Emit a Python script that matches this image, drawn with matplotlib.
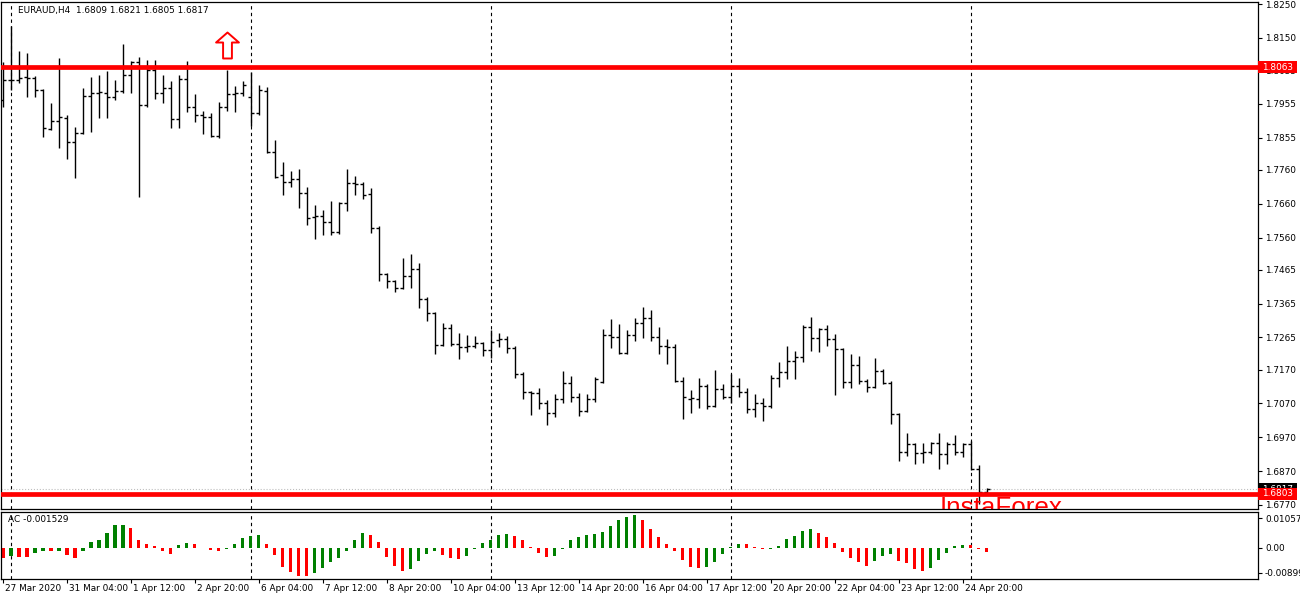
import numpy as np
import matplotlib.pyplot as plt
import matplotlib.transforms as mtransforms
from matplotlib.patches import Rectangle
from matplotlib.path import Path

plt.rcParams['font.family'] = ['DejaVu Sans']

# EURAUD H4 bars, 27 Mar 20:00 .. 27 Apr 08:00
opens = [1.7967, 1.8026, 1.8026, 1.8034, 1.8032, 1.7996, 1.7881, 1.7904, 1.7913, 1.7842,
         1.7869, 1.7978, 1.7987, 1.7987, 1.7975, 1.7993, 1.8040, 1.8079, 1.7952, 1.8055,
         1.7987, 1.8002, 1.7910, 1.8029, 1.7946, 1.7922, 1.7916, 1.7860, 1.7946, 1.7984,
         1.7987, 1.7975, 1.7928, 1.7993, 1.7813, 1.7745, 1.7724, 1.7733, 1.7692, 1.7621,
         1.7624, 1.7606, 1.7576, 1.7662, 1.7721, 1.7718, 1.7689, 1.7588, 1.7452, 1.7432,
         1.7411, 1.7446, 1.7467, 1.7378, 1.7337, 1.7243, 1.7293, 1.7245, 1.7237, 1.7240,
         1.7248, 1.7228, 1.7257, 1.7260, 1.7234, 1.7157, 1.7104, 1.7101, 1.7071, 1.7042,
         1.7083, 1.7130, 1.7089, 1.7047, 1.7083, 1.7133, 1.7272, 1.7266, 1.7219, 1.7272,
         1.7308, 1.7322, 1.7266, 1.7240, 1.7237, 1.7136, 1.7083, 1.7083, 1.7121, 1.7062,
         1.7113, 1.7089, 1.7121, 1.7104, 1.7053, 1.7071, 1.7062, 1.7145, 1.7163, 1.7195,
         1.7207, 1.7296, 1.7263, 1.7290, 1.7260, 1.7231, 1.7133, 1.7183, 1.7136, 1.7118,
         1.7166, 1.7130, 1.7039, 1.6926, 1.6950, 1.6923, 1.6926, 1.6953, 1.6920, 1.6950,
         1.6926, 1.6950, 1.6876, 1.6809]
highs = [1.8079, 1.8185, 1.8111, 1.8105, 1.8037, 1.7999, 1.7958, 1.8091, 1.7922, 1.7887,
         1.8002, 1.8034, 1.8040, 1.8052, 1.8026, 1.8132, 1.8082, 1.8094, 1.8085, 1.8085,
         1.8040, 1.8023, 1.8040, 1.8082, 1.7984, 1.7934, 1.7928, 1.7961, 1.8055, 1.8008,
         1.8023, 1.8049, 1.8011, 1.8005, 1.7848, 1.7783, 1.7757, 1.7763, 1.7709, 1.7656,
         1.7641, 1.7668, 1.7665, 1.7763, 1.7742, 1.7724, 1.7706, 1.7594, 1.7455, 1.7435,
         1.7500, 1.7511, 1.7485, 1.7384, 1.7340, 1.7308, 1.7305, 1.7278, 1.7272, 1.7269,
         1.7251, 1.7287, 1.7278, 1.7269, 1.7240, 1.7163, 1.7107, 1.7115, 1.7080, 1.7098,
         1.7166, 1.7151, 1.7101, 1.7098, 1.7148, 1.7290, 1.7319, 1.7305, 1.7287, 1.7322,
         1.7355, 1.7346, 1.7296, 1.7260, 1.7245, 1.7148, 1.7110, 1.7145, 1.7127, 1.7169,
         1.7127, 1.7157, 1.7145, 1.7115, 1.7098, 1.7086, 1.7154, 1.7192, 1.7240, 1.7225,
         1.7302, 1.7325, 1.7293, 1.7302, 1.7275, 1.7234, 1.7216, 1.7210, 1.7142, 1.7204,
         1.7172, 1.7136, 1.7042, 1.6982, 1.6953, 1.6953, 1.6956, 1.6982, 1.6956, 1.6977,
         1.6953, 1.6959, 1.6888, 1.6821]
lows = [1.7946, 1.7996, 1.8017, 1.7975, 1.7975, 1.7857, 1.7878, 1.7825, 1.7792, 1.7736,
        1.7866, 1.7872, 1.7913, 1.7913, 1.7967, 1.7987, 1.7987, 1.7680, 1.7946, 1.7969,
        1.7958, 1.7884, 1.7884, 1.7931, 1.7901, 1.7866, 1.7857, 1.7854, 1.7934, 1.7931,
        1.7978, 1.7890, 1.7922, 1.7810, 1.7736, 1.7686, 1.7709, 1.7647, 1.7597, 1.7556,
        1.7568, 1.7568, 1.7571, 1.7638, 1.7686, 1.7674, 1.7573, 1.7432, 1.7411, 1.7399,
        1.7408, 1.7411, 1.7352, 1.7313, 1.7216, 1.7240, 1.7240, 1.7201, 1.7222, 1.7234,
        1.7210, 1.7204, 1.7237, 1.7219, 1.7145, 1.7083, 1.7036, 1.7053, 1.7006, 1.7030,
        1.7071, 1.7074, 1.7033, 1.7045, 1.7074, 1.7130, 1.7234, 1.7216, 1.7216, 1.7254,
        1.7263, 1.7254, 1.7216, 1.7186, 1.7133, 1.7024, 1.7042, 1.7056, 1.7053, 1.7059,
        1.7083, 1.7071, 1.7089, 1.7042, 1.7030, 1.7018, 1.7056, 1.7118, 1.7142, 1.7142,
        1.7192, 1.7225, 1.7222, 1.7240, 1.7095, 1.7115, 1.7115, 1.7127, 1.7104, 1.7115,
        1.7127, 1.7009, 1.6900, 1.6915, 1.6891, 1.6894, 1.6920, 1.6876, 1.6891, 1.6917,
        1.6912, 1.6873, 1.6772, 1.6805]
closes = [1.8026, 1.8026, 1.8032, 1.8032, 1.7996, 1.7884, 1.7904, 1.7916, 1.7842, 1.7869,
          1.7978, 1.7987, 1.7990, 1.7975, 1.7993, 1.8040, 1.8079, 1.7952, 1.8055, 1.7987,
          1.8002, 1.7910, 1.8029, 1.7946, 1.7922, 1.7916, 1.7860, 1.7946, 1.7984, 1.7987,
          1.8011, 1.7928, 1.7996, 1.7813, 1.7739, 1.7724, 1.7733, 1.7692, 1.7618, 1.7624,
          1.7606, 1.7576, 1.7662, 1.7721, 1.7718, 1.7686, 1.7588, 1.7452, 1.7432, 1.7411,
          1.7446, 1.7467, 1.7378, 1.7337, 1.7243, 1.7293, 1.7245, 1.7237, 1.7240, 1.7248,
          1.7228, 1.7251, 1.7260, 1.7234, 1.7157, 1.7104, 1.7101, 1.7071, 1.7042, 1.7083,
          1.7130, 1.7089, 1.7047, 1.7083, 1.7142, 1.7272, 1.7266, 1.7219, 1.7272, 1.7308,
          1.7322, 1.7266, 1.7240, 1.7237, 1.7136, 1.7089, 1.7086, 1.7121, 1.7062, 1.7113,
          1.7089, 1.7121, 1.7104, 1.7053, 1.7071, 1.7062, 1.7145, 1.7163, 1.7195, 1.7207,
          1.7296, 1.7263, 1.7290, 1.7260, 1.7231, 1.7133, 1.7183, 1.7136, 1.7118, 1.7166,
          1.7130, 1.7039, 1.6926, 1.6950, 1.6923, 1.6926, 1.6953, 1.6920, 1.6950, 1.6926,
          1.6950, 1.6876, 1.6809, 1.6817]

# Accelerator Oscillator
ac = [-0.0038, -0.0031, -0.0032, -0.0034, -0.0017, -0.0011, -0.0013, -0.0012, -0.0026, -0.0038,
      -0.0011, 0.0019, 0.0028, 0.0053, 0.0080, 0.0082, 0.0071, 0.0028, 0.0014, 0.0007,
      -0.0013, -0.0021, 0.0011, 0.0018, 0.0014, -0.0002, -0.0007, -0.0011, -0.0003, 0.0014,
      0.0036, 0.0043, 0.0047, 0.0015, -0.0027, -0.0070, -0.0088, -0.0099, -0.0100, -0.0089,
      -0.0071, -0.0050, -0.0038, -0.0011, 0.0028, 0.0051, 0.0047, 0.0021, -0.0032, -0.0066,
      -0.0082, -0.0077, -0.0046, -0.0021, -0.0013, -0.0025, -0.0036, -0.0039, -0.0028, -0.0004,
      0.0018, 0.0027, 0.0046, 0.0049, 0.0041, 0.0027, 0.0002, -0.0018, -0.0032, -0.0030,
      -0.0004, 0.0027, 0.0038, 0.0047, 0.0049, 0.0056, 0.0078, 0.0099, 0.0110, 0.0116,
      0.0099, 0.0066, 0.0038, 0.0013, -0.0011, -0.0044, -0.0070, -0.0071, -0.0068, -0.0050,
      -0.0023, 0.0001, 0.0013, 0.0012, 0.0002, -0.0006, -0.0004, 0.0006, 0.0030, 0.0041,
      0.0061, 0.0066, 0.0053, 0.0038, 0.0018, -0.0014, -0.0038, -0.0050, -0.0064, -0.0046,
      -0.0028, -0.0024, -0.0046, -0.0056, -0.0076, -0.0082, -0.0071, -0.0044, -0.0018, 0.0006,
      0.0010, 0.0009, -0.0006, -0.0015]

time_bars = [0, 8, 16, 24, 32, 40, 48, 56, 64, 72, 80, 88, 96, 104, 112, 120]
time_labels = ['27 Mar 2020', '31 Mar 04:00', '1 Apr 12:00', '2 Apr 20:00', '6 Apr 04:00',
               '7 Apr 12:00', '8 Apr 20:00', '10 Apr 04:00', '13 Apr 12:00', '14 Apr 20:00',
               '16 Apr 04:00', '17 Apr 12:00', '20 Apr 20:00', '22 Apr 04:00', '23 Apr 12:00',
               '24 Apr 20:00']
week_bars = [1, 31, 61, 91, 121]

price_ticks = [1.8250, 1.8150, 1.8055, 1.7955, 1.7855, 1.7760, 1.7660, 1.7560, 1.7465,
               1.7365, 1.7265, 1.7170, 1.7070, 1.6970, 1.6870, 1.6770]
ac_ticks = [0.01057, 0.0, -0.00899]
ac_tick_labels = ['0.01057', '0.00', '-0.00899']

resistance = 1.8063
support = 1.6803
bid = 1.6817

fs = 6.4
idx = np.arange(len(opens))

fig = plt.figure(figsize=(13, 6), dpi=100)
ax = fig.add_axes([1 / 1300, 91 / 600, 1257 / 1300, 507 / 600])
ax2 = fig.add_axes([1 / 1300, 21 / 600, 1257 / 1300, 67 / 600])

for a in (ax, ax2):
    a.set_xlim(-0.25, 156.9)
    for s in a.spines.values():
        s.set_linewidth(0.9)
        s.set_color('black')
    for wb in week_bars:
        a.axvline(wb, color='black', lw=0.8, ls=(0, (3, 3)), zorder=1)

# price bars
ax.vlines(idx, lows, highs, color='black', lw=1.0, zorder=2)
ax.hlines(opens, idx - 0.4, idx, color='black', lw=1.0, zorder=2)
ax.hlines(closes, idx, idx + 0.4, color='black', lw=1.0, zorder=2)

ax.axhline(bid, color='#c0c0c0', lw=0.8, ls=':', zorder=1)
ax.axhline(resistance, color='#ff0000', lw=3.4, zorder=3)
ax.axhline(support, color='#ff0000', lw=3.4, zorder=3)

# up arrow object
arrow = Path([(0, 0.5), (0.44, 0.115), (0.17, 0.115), (0.17, -0.5), (-0.17, -0.5),
              (-0.17, 0.115), (-0.44, 0.115), (0, 0.5)],
             [Path.MOVETO] + [Path.LINETO] * 6 + [Path.CLOSEPOLY])
ax.plot([28], [1.8129], marker=arrow, markersize=18.7, mfc='white', mec='#ff0000',
        mew=1.4, ls='none', zorder=4)

ax.text(117.1, 1.6740, 'InstaForex', color='#ff0000', fontsize=18.7,
        family=['Liberation Sans', 'DejaVu Sans'], va='baseline', ha='left',
        clip_on=True, zorder=2)

ax.set_ylim(1.6758, 1.8256)
ax.set_yticks(price_ticks)
ax.set_yticklabels([f'{p:.4f}' for p in price_ticks])
ax.yaxis.tick_right()
ax.tick_params(axis='y', direction='out', length=3, width=0.8, labelsize=fs, pad=2)
ax.tick_params(axis='x', bottom=False, labelbottom=False)

# price labels on the scale (each box covers what lies under it)
blend = mtransforms.blended_transform_factory(ax.transAxes, ax.transData)
box_w = 39 / 1257
box_h = 12 * (1.8256 - 1.6758) / 507
for k, (val, fc) in enumerate([(bid, 'black'), (support, '#ff0000'), (resistance, '#ff0000')]):
    ax.add_patch(Rectangle((1.0, val - box_h / 2), box_w, box_h, transform=blend,
                           fc=fc, ec='none', clip_on=False, zorder=10 + 2 * k))
    ax.text(1.0 + box_w / 2, val, f'{val:.4f}', transform=blend, fontsize=fs,
            color='white', ha='center', va='center', clip_on=False, zorder=11 + 2 * k)

# AC histogram
colors = ['#ff0000'] + ['#008000' if ac[i] > ac[i - 1] else '#ff0000' for i in range(1, len(ac))]
ax2.bar(idx, ac, width=0.38, color=colors, zorder=2)
ax2.set_ylim(-0.011124, 0.012704)
ax2.set_yticks(ac_ticks)
ax2.set_yticklabels(ac_tick_labels)
ax2.yaxis.tick_right()
ax2.tick_params(axis='y', direction='out', length=3, width=0.8, labelsize=fs, pad=2)
ax2.set_xticks(time_bars)
ax2.set_xticklabels([])
ax2.tick_params(axis='x', direction='out', length=3, width=0.8)
for b, lab in zip(time_bars, time_labels):
    ax2.text(b + 0.25, -0.135, lab, transform=ax2.get_xaxis_transform(),
             fontsize=fs, ha='left', va='center')

fig.text(18 / 1300, 1 - 11 / 600, 'EURAUD,H4  1.6809 1.6821 1.6805 1.6817', fontsize=fs, va='center')
fig.text(8 / 1300, 1 - 520 / 600, 'AC -0.001529', fontsize=fs, va='center')

fig.savefig('out.png', dpi=100, facecolor='white')
